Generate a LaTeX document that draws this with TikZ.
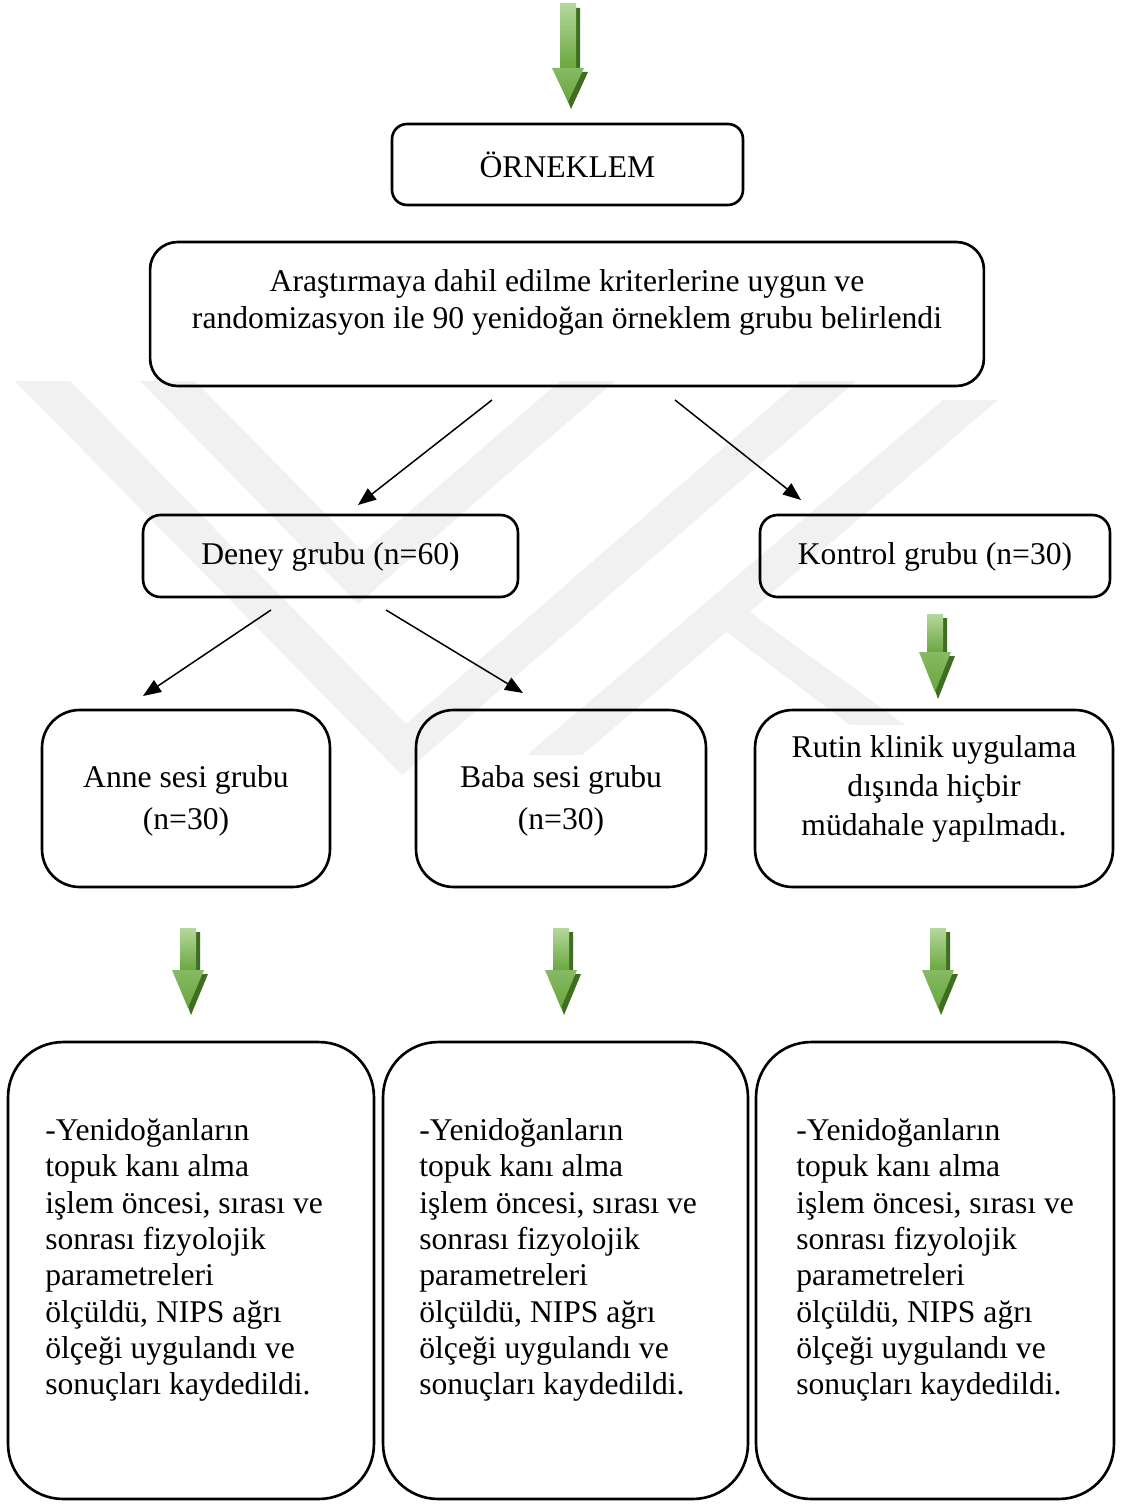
\documentclass[tikz,border=0pt]{standalone}
\usepackage{fontspec}
\setmainfont{Liberation Serif}
\usetikzlibrary{arrows.meta}
\definecolor{wm}{gray}{0.945}
\definecolor{gdark}{HTML}{3F6E22}
\definecolor{glight}{HTML}{B5D89C}
\definecolor{gmid}{HTML}{69A63E}
\newcommand\garrow[5]{% name, cx, ytop, yhead, ytip
  \coordinate (#1) at (#2,#5);
  \fill[gdark] ({#2-8+4},{#3+4}) -- ({#2+8+4},{#3+4}) -- ({#2+8+4},{#4+4}) -- ({#2+16+4},{#4+4}) -- ({#2+3},{#5+7}) -- ({#2-16+4},{#4+4}) -- ({#2-8+4},{#4+4}) -- cycle;
  \shade[top color=glight,bottom color=gmid] ({#2-8},#3) rectangle ({#2+8},{#4+1});
  \shade[top color=gmid!60!glight,bottom color=gmid] ({#2-16},#4) -- ({#2+16},#4) -- (#2,#5) -- cycle;
}
\begin{document}
\begin{tikzpicture}[x=0.02cm,y=-0.02cm,
  box/.style={draw, line width=1.5pt, rounded corners=#1, inner sep=0pt},
  box/.default=0.3cm,
  txt/.style={align=center, inner sep=0pt},
  arr/.style={line width=0.85pt, -{Triangle[length=0.36cm,width=0.28cm]}}]
\useasboundingbox (0,0) rectangle (1121,1504);
\fill[white] (0,0) rectangle (1121,1504);
% watermark (faint logo)
\fill[wm] (15,381) -- (70,381) -- (406,724) -- (800,381) -- (856,381) -- (402,775) -- cycle;
\fill[wm] (140,381) -- (195,381) -- (363,552) -- (560,381) -- (615,381) -- (358,604) -- cycle;
\fill[wm] (527,755) -- (582,755) -- (998,400) -- (943,400) -- cycle;
\fill[wm] (725,590) -- (760,620) -- (905,725) -- (850,725) -- (700,612) -- cycle;
\begin{scope}[font=\fontsize{18}{21}\selectfont]
% boxes
\node[box=0.3cm, minimum width=7.02cm, minimum height=1.62cm] (orn) at (567.5,164.5) {};
\node[txt] (torn) at (567.5,164.5) {ÖRNEKLEM};
\node[box=0.55cm, minimum width=16.68cm, minimum height=2.88cm] (big) at (567,314) {};
\node[txt, font=\fontsize{18}{21}\selectfont] (tbig) at (567,302) {Araştırmaya dahil edilme kriterlerine uygun ve\\randomizasyon ile 90 yenidoğan örneklem grubu belirlendi};
\node[box=0.35cm, minimum width=7.5cm, minimum height=1.64cm] (deney) at (330.5,556) {};
\node[txt] (tdeney) at (330.5,557) {Deney grubu (n=60)};
\node[box=0.35cm, minimum width=7.0cm, minimum height=1.64cm] (kontrol) at (935,556) {};
\node[txt] (tkontrol) at (935,557) {Kontrol grubu (n=30)};
\node[box=0.75cm, minimum width=5.76cm, minimum height=3.54cm] (anne) at (186,798.5) {};
\node[txt, font=\fontsize{18}{23.5}\selectfont] (tanne) at (186,801) {Anne sesi grubu\\(n=30)};
\node[box=0.75cm, minimum width=5.8cm, minimum height=3.54cm] (baba) at (561,798.5) {};
\node[txt, font=\fontsize{18}{23.5}\selectfont] (tbaba) at (561,801) {Baba sesi grubu\\(n=30)};
\node[box=0.75cm, minimum width=7.16cm, minimum height=3.54cm] (rutin) at (934,798.5) {};
\node[txt, font=\fontsize{18}{22.4}\selectfont] (trutin) at (934,789) {Rutin klinik uygulama\\dışında hiçbir\\müdahale yapılmadı.};
\node[box=1.1cm, minimum width=7.32cm, minimum height=9.14cm] (b1) at (191,1270.5) {};
\node[box=1.1cm, minimum width=7.3cm, minimum height=9.14cm] (b2) at (565.5,1270.5) {};
\node[box=1.1cm, minimum width=7.16cm, minimum height=9.14cm] (b3) at (935,1270.5) {};
\foreach \n/\x in {t1/45, t2/419, t3/796}{
  \node[txt, anchor=west, align=left, font=\fontsize{18}{20.7}\selectfont] (\n) at (\x,1260) {-Yenidoğanların\\topuk kanı alma\\işlem öncesi, sırası ve\\sonrası fizyolojik\\parametreleri\\ölçüldü, NIPS ağrı\\ölçeği uygulandı ve\\sonuçları kaydedildi.};
}
\end{scope}
% black arrows
\coordinate (s1) at (492,400); \coordinate (e1) at (358,505);
\coordinate (s2) at (675,400); \coordinate (e2) at (801,500);
\coordinate (s3) at (271,610); \coordinate (e3) at (143,696);
\coordinate (s4) at (386,610); \coordinate (e4) at (523,693);
\draw[arr] (s1) -- (e1);
\draw[arr] (s2) -- (e2);
\draw[arr] (s3) -- (e3);
\draw[arr] (s4) -- (e4);
% green arrows
\garrow{g0}{568}{4}{68}{102}
\garrow{g1}{935}{614}{652}{692}
\garrow{g2}{188}{928}{970}{1008}
\garrow{g3}{561}{928}{970}{1008}
\garrow{g4}{938}{928}{970}{1008}
\end{tikzpicture}
\end{document}
